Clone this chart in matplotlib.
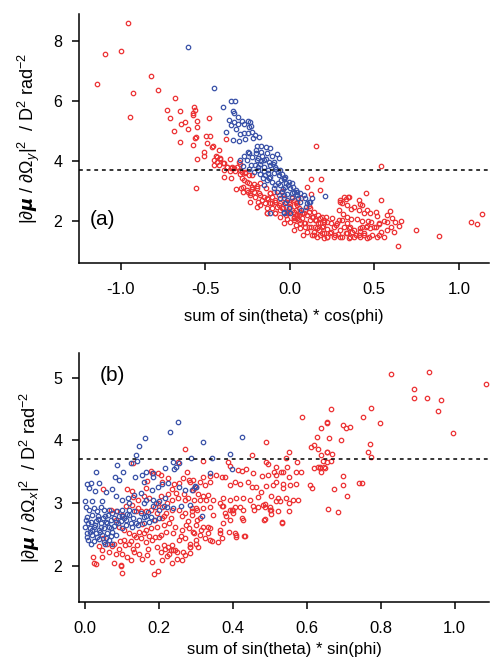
import matplotlib
matplotlib.use("Agg")
import matplotlib.pyplot as plt
import numpy as np

plt.rcParams['font.family'] = ['Liberation Sans', 'DejaVu Sans']
plt.rcParams['mathtext.fontset'] = 'custom'
plt.rcParams['mathtext.rm'] = 'Liberation Sans'
plt.rcParams['mathtext.it'] = 'Liberation Sans:italic'
plt.rcParams['mathtext.bf'] = 'Liberation Sans:bold'

RED = "#ec3234"
BLUE = "#3a52a8"

# panel (a): sum of sin(theta)*cos(phi) vs |dmu/dOmega_y|^2
a_red = np.array([
    (-1.138, 6.55), (-1.09, 7.55), (-0.956, 8.6), (-1.0, 7.66), (-0.929, 6.25), (-0.943, 5.47),
    (-0.818, 6.82), (-0.779, 6.36), (-0.676, 6.08), (-0.724, 5.70), (-0.706, 5.41), (-0.684, 4.99),
    (-0.647, 5.65), (-0.643, 5.22), (-0.619, 5.30), (-0.599, 5.07), (-0.647, 4.63), (-0.574, 4.53),
    (-0.574, 5.58), (-0.564, 5.78), (-0.546, 5.32), (-0.550, 5.11), (-0.554, 4.78), (-0.548, 4.05),
    (-0.562, 5.69), (-0.574, 5.52), (-0.479, 5.42), (-0.558, 4.74), (-0.497, 4.83), (-0.469, 4.83),
    (-0.489, 4.58), (-0.458, 4.46), (-0.452, 4.50), (-0.379, 4.72), (-0.420, 4.36), (-0.505, 4.30),
    (-0.509, 4.17), (-0.436, 4.17), (-0.414, 4.08), (-0.430, 3.97), (-0.351, 4.06), (-0.302, 3.97),
    (-0.296, 3.89), (-0.394, 3.93), (-0.371, 3.80), (-0.341, 3.80), (-0.446, 3.86), (-0.420, 3.86),
    (-0.391, 3.69), (-0.322, 3.66), (-0.292, 3.54), (-0.262, 3.58), (-0.387, 3.46), (-0.347, 3.41),
    (-0.351, 3.66), (-0.282, 3.63), (-0.272, 3.36), (-0.243, 3.24), (-0.213, 3.21), (-0.552, 3.08),
    (-0.316, 3.06), (-0.288, 3.10), (-0.276, 2.94), (-0.249, 2.97), (-0.223, 3.06), (-0.193, 3.08),
    (-0.233, 2.86), (-0.203, 2.80), (-0.174, 2.86), (-0.189, 2.63), (-0.164, 2.69), (-0.134, 2.74),
    (-0.105, 2.80), (-0.174, 2.52), (-0.144, 2.58), (-0.233, 2.63), (-0.193, 2.47), (-0.134, 2.41),
    (-0.118, 2.91), (-0.095, 2.97), (-0.065, 2.86), (-0.045, 2.99), (-0.114, 2.58), (-0.085, 2.63),
    (-0.065, 2.52), (-0.085, 2.24), (-0.134, 2.24), (-0.105, 2.41), (-0.036, 2.74), (-0.006, 2.63),
    (0.024, 2.69), (0.043, 2.52), (-0.039, 2.41), (-0.016, 2.30), (0.014, 2.36), (0.034, 2.19),
    (0.043, 2.08), (0.024, 2.08), (-0.020, 2.19), (-0.025, 2.63), (0.004, 2.47), (0.034, 2.36),
    (0.053, 2.19), (0.024, 2.13), (-0.006, 2.30), (-0.045, 2.41), (0.040, 2.63), (0.067, 2.74),
    (0.014, 2.74), (-0.035, 1.91), (0.004, 1.97), (0.034, 1.86), (0.053, 2.02), (0.063, 1.74),
    (0.024, 1.69), (0.156, 4.48), (0.540, 3.81), (0.127, 3.40), (0.182, 3.38), (0.103, 3.11),
    (0.127, 2.88), (0.176, 3.02), (0.448, 2.91), (0.540, 2.69), (0.320, 2.78), (0.346, 2.80),
    (0.306, 2.60), (0.296, 2.69), (0.418, 2.56), (0.379, 2.47), (0.360, 2.38), (0.336, 2.52),
    (0.408, 2.36), (0.458, 2.36), (0.438, 2.24), (0.477, 2.24), (0.507, 2.29), (0.517, 2.16),
    (0.462, 2.00), (0.428, 1.98), (0.399, 2.04), (0.363, 2.07), (0.339, 2.12), (0.316, 2.23),
    (0.290, 2.34), (0.592, 2.33), (0.576, 2.19), (0.606, 2.08), (0.560, 2.00), (0.625, 1.97),
    (0.659, 2.00), (0.645, 1.82), (0.596, 1.78), (0.572, 1.69), (0.615, 1.63), (0.527, 1.89),
    (0.497, 1.78), (0.537, 1.63), (0.556, 1.47), (0.527, 1.52), (0.641, 1.17), (0.748, 1.68),
    (0.478, 1.97), (0.454, 1.82), (0.428, 1.78), (0.414, 1.67), (0.438, 1.52), (0.468, 1.47),
    (0.418, 1.44), (0.389, 1.52), (0.359, 1.47), (0.369, 1.63), (0.349, 1.74), (0.320, 1.78),
    (0.300, 1.69), (0.284, 1.56), (0.310, 1.47), (0.330, 1.58), (0.260, 1.47), (0.240, 1.58),
    (0.221, 1.71), (0.197, 1.82), (0.178, 1.93), (0.158, 2.02), (0.201, 1.97), (0.241, 1.91),
    (0.276, 1.86), (0.290, 2.02), (0.250, 2.08), (0.217, 2.11), (0.192, 2.11), (0.166, 2.19),
    (0.142, 2.30), (0.122, 2.41), (0.113, 2.49), (0.093, 2.36), (0.073, 2.24), (0.103, 2.19),
    (0.138, 2.13), (0.118, 2.02), (0.087, 1.93), (0.126, 1.80), (0.152, 1.78), (0.172, 1.69),
    (0.192, 1.58), (0.221, 1.47), (0.201, 1.41), (0.142, 1.52), (0.093, 1.80), (0.079, 1.52),
    (0.300, 2.63), (0.330, 2.71), (0.350, 2.78), (0.408, 2.69), (0.428, 2.52), (0.576, 1.97),
    (1.134, 2.21), (1.070, 1.97), (1.107, 1.88), (0.880, 1.50),
    (-0.280, 3.41), (-0.252, 3.30), (-0.223, 3.13), (-0.193, 3.16), (-0.174, 3.24), (-0.138, 3.08),
    (-0.118, 2.91), (-0.085, 2.69), (-0.055, 2.58), (-0.036, 2.74), (-0.020, 2.47), (0.004, 2.56),
    (0.034, 2.60), (0.053, 2.41), (0.063, 2.30), (0.083, 2.24), (0.112, 2.30), (0.132, 2.13),
    (0.152, 2.02), (0.166, 1.91), (0.181, 2.08), (0.201, 2.02), (0.221, 1.97), (0.191, 1.80),
    (0.162, 1.74), (0.142, 1.63), (0.112, 1.80), (0.093, 1.91), (0.073, 2.08), (0.043, 2.19),
    (0.024, 2.30), (-0.016, 2.24), (-0.055, 2.36), (-0.075, 2.47), (-0.105, 2.58), (-0.130, 2.71),
    (-0.154, 2.80), (-0.183, 2.91), (-0.209, 2.97), (-0.233, 2.91), (-0.252, 3.02), (-0.276, 3.13),
    (-0.134, 2.24), (-0.085, 2.27), (-0.055, 2.13), (-0.016, 2.04), (0.024, 2.02), (0.063, 1.91),
    (0.103, 1.63), (0.132, 1.52), (0.162, 1.47), (0.201, 1.58), (0.241, 1.63), (0.260, 1.80),
    (0.280, 1.91), (0.310, 2.02), (0.339, 1.91), (0.359, 1.80), (0.379, 1.69), (0.418, 1.74),
    (0.448, 1.80), (0.477, 1.74), (0.507, 1.80), (0.527, 1.91), (0.339, 1.58), (0.300, 1.47),
    (0.270, 1.52), (0.349, 1.41), (0.379, 1.47), (0.408, 1.52), (0.438, 1.58), (0.458, 1.41),
    (0.487, 1.52), (0.517, 1.47), (0.221, 1.47), (0.181, 1.52),
    (-0.450, 4.02), (-0.430, 4.13), (-0.410, 4.04), (-0.390, 3.91), (-0.370, 3.80), (-0.350, 3.74),
    (-0.330, 3.74), (-0.310, 3.78), (-0.296, 3.69), (-0.262, 3.63), (-0.242, 3.52), (-0.223, 3.52),
])
a_blue = np.array([
    (-0.600, 7.79), (-0.446, 6.42), (-0.345, 6.00), (-0.321, 5.98), (-0.392, 5.80), (-0.335, 5.67),
    (-0.327, 5.59), (-0.304, 5.47), (-0.359, 5.37), (-0.347, 5.19), (-0.327, 5.30), (-0.308, 5.23),
    (-0.282, 5.32), (-0.272, 5.22), (-0.247, 5.32), (-0.233, 5.28), (-0.243, 5.13), (-0.229, 5.17),
    (-0.316, 5.06), (-0.292, 4.90), (-0.272, 4.91), (-0.249, 4.93), (-0.223, 4.97), (-0.203, 4.86),
    (-0.181, 4.79), (-0.217, 4.74), (-0.377, 4.97), (-0.335, 4.68), (-0.300, 4.66), (-0.264, 4.72),
    (-0.193, 4.49), (-0.168, 4.50), (-0.138, 4.46), (-0.199, 4.36), (-0.168, 4.30), (-0.114, 4.41),
    (-0.134, 4.24), (-0.105, 4.16), (-0.075, 4.21), (-0.065, 4.08), (-0.095, 3.97), (-0.249, 4.30),
    (-0.268, 4.17), (-0.252, 4.02), (-0.223, 4.13), (-0.193, 4.02), (-0.164, 4.17), (-0.150, 4.02),
    (-0.174, 3.90), (-0.203, 3.86), (-0.229, 3.86), (-0.243, 3.72), (-0.213, 3.63), (-0.185, 3.69),
    (-0.154, 3.80), (-0.130, 3.69), (-0.114, 3.86), (-0.085, 3.80), (-0.071, 3.63), (-0.292, 4.02),
    (-0.276, 3.83), (-0.174, 3.54), (-0.144, 3.52), (-0.114, 3.47), (-0.095, 3.59), (-0.065, 3.52),
    (-0.051, 3.36), (-0.026, 3.47), (-0.006, 3.30), (-0.134, 3.36), (-0.105, 3.30), (-0.085, 3.19),
    (-0.055, 3.19), (-0.026, 3.13), (0.004, 3.08), (0.014, 3.24), (0.034, 3.01), (-0.016, 2.90),
    (0.014, 2.79), (0.043, 2.84), (-0.045, 2.97), (-0.075, 2.97), (-0.095, 3.08), (-0.154, 3.19),
    (-0.055, 2.74), (-0.026, 2.58), (-0.006, 2.41), (-0.036, 2.30), (0.004, 2.24), (-0.016, 2.69),
    (-0.035, 3.41), (-0.035, 2.86), (0.014, 2.91), (0.043, 2.97), (0.083, 2.86), (0.063, 2.63),
    (0.122, 2.63), (0.099, 2.47), (0.068, 2.36), (-0.035, 2.24), (0.211, 2.83), (0.113, 2.63),
    (0.063, 2.91), (-0.243, 4.25), (-0.114, 2.24),
    (-0.200, 4.25), (-0.185, 4.10), (-0.170, 4.00), (-0.140, 4.05), (-0.125, 3.95), (-0.100, 3.88),
    (-0.080, 3.72), (-0.060, 3.68), (-0.045, 3.55), (-0.035, 3.40), (-0.020, 3.25), (-0.010, 3.18),
    (0.020, 3.12), (-0.130, 3.58), (-0.155, 3.65), (-0.190, 3.78), (-0.160, 3.42), (-0.120, 3.42),
    (-0.070, 3.25), (-0.040, 3.05), (0.025, 2.95), (0.050, 2.75), (0.090, 2.75), (0.100, 2.60),
    (0.130, 2.75),
])

# panel (b): sum of sin(theta)*sin(phi) vs |dmu/dOmega_x|^2
b_red = np.array([
    (0.271, 3.86), (0.130, 3.64), (0.253, 3.65), (0.180, 3.52), (0.183, 3.48), (0.199, 3.48),
    (0.277, 3.50), (0.169, 3.35), (0.210, 3.34), (0.241, 3.31), (0.282, 3.37), (0.295, 3.24),
    (0.050, 3.23), (0.115, 3.23), (0.129, 3.20), (0.165, 3.24), (0.246, 3.17), (0.268, 3.15),
    (0.280, 3.08), (0.295, 3.05), (0.070, 2.89), (0.085, 2.88), (0.100, 2.81), (0.138, 2.88),
    (0.151, 2.88), (0.165, 2.87), (0.190, 2.94), (0.199, 3.01), (0.208, 2.94), (0.223, 3.00),
    (0.236, 3.05), (0.253, 3.09), (0.271, 3.06), (0.290, 2.92), (0.304, 2.89), (0.220, 2.85),
    (0.236, 2.89), (0.254, 2.90), (0.272, 2.84), (0.290, 2.81), (0.304, 2.73), (0.084, 2.73),
    (0.093, 2.63), (0.106, 2.57), (0.120, 2.52), (0.133, 2.49), (0.147, 2.55), (0.165, 2.57),
    (0.178, 2.60), (0.196, 2.63), (0.214, 2.65), (0.227, 2.68), (0.245, 2.63), (0.263, 2.57),
    (0.281, 2.60), (0.295, 2.52), (0.156, 2.67), (0.191, 2.73), (0.209, 2.76), (0.106, 2.42),
    (0.120, 2.36), (0.130, 2.28), (0.142, 2.34), (0.151, 2.44), (0.165, 2.39), (0.182, 2.42),
    (0.200, 2.47), (0.214, 2.34), (0.226, 2.31), (0.236, 2.34), (0.245, 2.26), (0.254, 2.42),
    (0.272, 2.44), (0.286, 2.35), (0.079, 2.36), (0.073, 2.32), (0.093, 2.28), (0.100, 2.20),
    (0.085, 2.20), (0.066, 2.23), (0.133, 2.23), (0.147, 2.19), (0.169, 2.18), (0.218, 2.27),
    (0.232, 2.26), (0.227, 2.20), (0.223, 2.16), (0.250, 2.23), (0.046, 2.26), (0.048, 2.14),
    (0.022, 2.15), (0.031, 2.04), (0.079, 2.05), (0.097, 2.02), (0.100, 1.89), (0.187, 1.88),
    (0.199, 1.93), (0.263, 2.10), (0.286, 2.21), (0.307, 2.30), (0.026, 2.05), (0.098, 2.01),
    (0.183, 2.07), (0.433, 2.48), (0.408, 2.50), (0.657, 2.91), (0.684, 2.86), (0.533, 2.69),
    (0.552, 2.88), (0.487, 2.75), (0.487, 2.99), (0.365, 2.52), (0.338, 2.42), (0.334, 2.63),
    (0.311, 2.76), (0.347, 2.81), (0.372, 2.95), (0.401, 2.89), (0.424, 2.76), (0.428, 2.89),
    (0.455, 2.95), (0.482, 2.97), (0.518, 3.03), (0.505, 2.89), (0.275, 2.65), (0.293, 2.55),
    (0.302, 2.42), (0.284, 2.31), (0.266, 2.23), (0.239, 2.25),
    (0.489, 3.97), (0.452, 3.76), (0.552, 3.82), (0.545, 3.72), (0.655, 4.30), (0.629, 4.05),
    (0.613, 3.90), (0.620, 3.93), (0.631, 3.86), (0.640, 3.77), (0.655, 3.81), (0.631, 3.58),
    (0.619, 3.56), (0.635, 3.56), (0.649, 3.56), (0.655, 3.66), (0.610, 3.29), (0.614, 3.24),
    (0.320, 3.68), (0.388, 3.65), (0.392, 3.59), (0.415, 3.53), (0.424, 3.51), (0.491, 3.66),
    (0.495, 3.62), (0.516, 3.58), (0.512, 3.50), (0.532, 3.50), (0.547, 3.58), (0.574, 3.65),
    (0.584, 3.49), (0.572, 3.50), (0.437, 3.54), (0.455, 3.48), (0.478, 3.43), (0.496, 3.45),
    (0.518, 3.45), (0.536, 3.49), (0.552, 3.42), (0.518, 3.34), (0.536, 3.31), (0.554, 3.29),
    (0.572, 3.31), (0.536, 3.24), (0.509, 3.29), (0.491, 3.27), (0.464, 3.26), (0.451, 3.26),
    (0.442, 3.34), (0.419, 3.31), (0.406, 3.34), (0.392, 3.29), (0.379, 3.42), (0.370, 3.42),
    (0.356, 3.45), (0.338, 3.43), (0.320, 3.42), (0.311, 3.34), (0.302, 3.26), (0.338, 3.34),
    (0.325, 3.29), (0.293, 3.37), (0.284, 3.34), (0.293, 3.21), (0.307, 3.14), (0.320, 3.11),
    (0.334, 3.13), (0.347, 3.05), (0.329, 3.05), (0.311, 3.05), (0.374, 3.08), (0.392, 3.05),
    (0.410, 3.08), (0.428, 3.08), (0.446, 3.06), (0.469, 3.10), (0.477, 3.18), (0.505, 3.12),
    (0.523, 3.09), (0.545, 3.08), (0.563, 3.05), (0.577, 3.06), (0.552, 3.00), (0.527, 3.03),
    (0.500, 2.94), (0.487, 2.94), (0.469, 2.94), (0.419, 2.94), (0.406, 2.94), (0.397, 2.89),
    (0.365, 3.01), (0.374, 2.96), (0.338, 2.94), (0.320, 2.92), (0.302, 2.92), (0.289, 2.87),
    (0.500, 2.89), (0.523, 2.87), (0.505, 2.83), (0.484, 2.74), (0.458, 2.89), (0.392, 2.90),
    (0.401, 2.84), (0.379, 2.84), (0.383, 2.79), (0.392, 2.73), (0.374, 2.68), (0.365, 2.58),
    (0.406, 2.52), (0.410, 2.47), (0.432, 2.48), (0.428, 2.74), (0.284, 2.31), (0.302, 2.36),
    (0.311, 2.49), (0.320, 2.63), (0.338, 2.60), (0.334, 2.52), (0.533, 2.70),
    (0.828, 5.05), (0.932, 5.08), (1.085, 4.89), (0.891, 4.81), (0.891, 4.67), (0.926, 4.68),
    (0.964, 4.65), (0.954, 4.47), (0.996, 4.12), (0.667, 4.50), (0.774, 4.51), (0.752, 4.38),
    (0.798, 4.28), (0.654, 4.28), (0.639, 4.19), (0.698, 4.24), (0.707, 4.19), (0.718, 4.22),
    (0.660, 4.04), (0.694, 4.01), (0.770, 3.94), (0.767, 3.82), (0.774, 3.73), (0.656, 3.81),
    (0.668, 3.78), (0.644, 3.67), (0.667, 3.67), (0.635, 3.57), (0.648, 3.57), (0.640, 3.49),
    (0.698, 3.43), (0.699, 3.29), (0.673, 3.22), (0.710, 3.11), (0.741, 3.32), (0.749, 3.32),
    (0.587, 4.37),
    (0.112, 2.95), (0.128, 2.98), (0.145, 2.93), (0.178, 2.90), (0.195, 2.85), (0.215, 2.80),
    (0.232, 2.76), (0.262, 2.80), (0.280, 2.72), (0.300, 2.65), (0.315, 2.58), (0.325, 2.45),
    (0.345, 2.40), (0.360, 2.38), (0.370, 2.45), (0.390, 2.55), (0.260, 2.48), (0.240, 2.52),
    (0.220, 2.55), (0.205, 2.50), (0.190, 2.46), (0.175, 2.48), (0.160, 2.52), (0.140, 2.46),
    (0.125, 2.40), (0.110, 2.34), (0.095, 2.40), (0.115, 2.15), (0.125, 2.10), (0.155, 2.12),
    (0.170, 2.27), (0.195, 2.30), (0.205, 2.22), (0.210, 2.10), (0.235, 2.05), (0.250, 2.12),
    (0.270, 2.18), (0.060, 2.36), (0.050, 2.45), (0.040, 2.32), (0.130, 3.10), (0.145, 3.05),
    (0.160, 3.12), (0.175, 3.08), (0.205, 3.12), (0.225, 3.15), (0.235, 3.22), (0.255, 3.33),
    (0.265, 3.40), (0.225, 3.40), (0.205, 3.45),
])
b_blue = np.array([
    (0.251, 4.30), (0.230, 4.13), (0.163, 4.04), (0.147, 3.91), (0.140, 3.76), (0.142, 3.68),
    (0.124, 3.64), (0.088, 3.61), (0.031, 3.49), (0.007, 3.30), (0.018, 3.33), (0.039, 3.33),
    (0.012, 3.24), (0.027, 3.20), (0.057, 3.18), (0.075, 3.23), (0.092, 3.37), (0.104, 3.49),
    (0.082, 3.42), (0.136, 3.42), (0.160, 3.34), (0.154, 3.45), (0.166, 3.50), (0.184, 3.48),
    (0.218, 3.56), (0.241, 3.54), (0.247, 3.58), (0.238, 3.65), (0.254, 3.64), (0.151, 3.17),
    (0.133, 3.13), (0.118, 3.09), (0.101, 3.06), (0.085, 3.12), (0.181, 3.21), (0.199, 3.26),
    (0.210, 3.31), (0.226, 3.33), (0.254, 3.26), (0.272, 3.21), (0.298, 3.27), (0.290, 3.21),
    (0.001, 3.04), (0.019, 3.04), (0.046, 3.03), (0.192, 3.00), (0.201, 3.03), (0.218, 3.09),
    (0.184, 3.06), (0.165, 3.05), (0.223, 2.94), (0.003, 2.94), (0.012, 2.89), (0.025, 2.92),
    (0.034, 2.87), (0.043, 2.94), (0.052, 2.89), (0.066, 2.90), (0.021, 2.81), (0.037, 2.79),
    (0.049, 2.76), (0.064, 2.81), (0.075, 2.84), (0.088, 2.87), (0.102, 2.89), (0.120, 2.90),
    (0.133, 2.88), (0.151, 2.84), (0.165, 2.80), (0.178, 2.78), (0.003, 2.73), (0.016, 2.71),
    (0.030, 2.72), (0.043, 2.68), (0.057, 2.71), (0.070, 2.73), (0.084, 2.71), (0.097, 2.72),
    (0.111, 2.73), (0.124, 2.68), (0.138, 2.69), (0.001, 2.63), (0.013, 2.60), (0.025, 2.63),
    (0.039, 2.57), (0.052, 2.60), (0.066, 2.63), (0.079, 2.64), (0.007, 2.52), (0.021, 2.49),
    (0.034, 2.47), (0.048, 2.49), (0.061, 2.52), (0.075, 2.55), (0.010, 2.42), (0.025, 2.40),
    (0.039, 2.43), (0.052, 2.39), (0.066, 2.42), (0.016, 2.35), (0.055, 2.35), (0.073, 2.35),
    (0.093, 2.79), (0.106, 2.76), (0.120, 2.81), (0.111, 2.65), (0.129, 2.63), (0.147, 2.73),
    (0.160, 2.68), (0.174, 2.71), (0.187, 2.73), (0.201, 2.76), (0.160, 3.00), (0.120, 3.00),
    (0.319, 3.97), (0.287, 3.72), (0.344, 3.72), (0.392, 3.78), (0.424, 4.06), (0.397, 3.54),
    (0.338, 3.48), (0.300, 3.26), (0.284, 2.97), (0.316, 2.80), (0.185, 3.42),
    (0.005, 2.78), (0.010, 2.68), (0.020, 2.57), (0.028, 2.66), (0.035, 2.75), (0.045, 2.62),
    (0.055, 2.80), (0.060, 2.68), (0.070, 2.60), (0.080, 2.77), (0.090, 2.68), (0.100, 2.60),
    (0.005, 2.47), (0.015, 2.55), (0.030, 2.53), (0.042, 2.54), (0.058, 2.45), (0.070, 2.48),
    (0.085, 2.50), (0.100, 2.80), (0.115, 2.83), (0.130, 2.77), (0.145, 2.66), (0.160, 2.78),
    (0.170, 2.86), (0.185, 2.95), (0.200, 2.90), (0.215, 2.96), (0.240, 2.92), (0.260, 2.96),
])

threshold = 3.7

fig = plt.figure(figsize=(4.91, 6.63), dpi=100)
ax1 = fig.add_axes([79 / 491, 1 - 263 / 663, 410 / 491, 249 / 663])
ax2 = fig.add_axes([79 / 491, 1 - 602 / 663, 410 / 491, 249 / 663])

mk = dict(marker="o", linestyle="none", markerfacecolor="none", markersize=3.2, markeredgewidth=0.9)

ax1.plot(a_red[:, 0], a_red[:, 1], color=RED, **mk)
ax1.plot(a_blue[:, 0], a_blue[:, 1], color=BLUE, **mk)
ax2.plot(b_red[:, 0], b_red[:, 1], color=RED, **mk)
ax2.plot(b_blue[:, 0], b_blue[:, 1], color=BLUE, **mk)

for ax in (ax1, ax2):
    ax.axhline(threshold, color="black", linestyle=(0, (2.5, 2.5)), linewidth=1.1)
    ax.spines["top"].set_visible(False)
    ax.spines["right"].set_visible(False)
    ax.spines["left"].set_linewidth(1.1)
    ax.spines["bottom"].set_linewidth(1.1)
    ax.tick_params(direction="out", length=5, width=1.1)
    ax.tick_params(axis="x", pad=9, labelsize=12)
    ax.tick_params(axis="y", pad=7, labelsize=11.5)

ax1.set_xlim(-1.246, 1.178)
ax1.set_ylim(0.59, 8.89)
ax1.set_xticks([-1.0, -0.5, 0.0, 0.5, 1.0])
ax1.set_xticklabels(["-1.0", "-0.5", "0.0", "0.5", "1.0"])
ax1.set_yticks([2, 4, 6, 8])
ax1.set_xlabel("sum of sin(theta) * cos(phi)", fontsize=12, labelpad=8)
ax1.set_ylabel(r"$|\partial\boldsymbol{\mu}\ /\ \partial\Omega_y|^2$  / D$^2$ rad$^{-2}$", fontsize=13, labelpad=8)
ax1.text(0.027, 0.173, "(a)", transform=ax1.transAxes, fontsize=15, va="center")

ax2.set_xlim(-0.0154, 1.093)
ax2.set_ylim(1.43, 5.39)
ax2.set_xticks([0.0, 0.2, 0.4, 0.6, 0.8, 1.0])
ax2.set_xticklabels(["0.0", "0.2", "0.4", "0.6", "0.8", "1.0"])
ax2.set_yticks([2, 3, 4, 5])
ax2.set_xlabel("sum of sin(theta) * sin(phi)", fontsize=12, labelpad=4)
ax2.set_ylabel(r"$|\partial\boldsymbol{\mu}\ /\ \partial\Omega_x|^2$  / D$^2$ rad$^{-2}$", fontsize=13, labelpad=8)
ax2.text(0.051, 0.91, "(b)", transform=ax2.transAxes, fontsize=15, va="center")

fig.savefig("out.png", dpi=100)
